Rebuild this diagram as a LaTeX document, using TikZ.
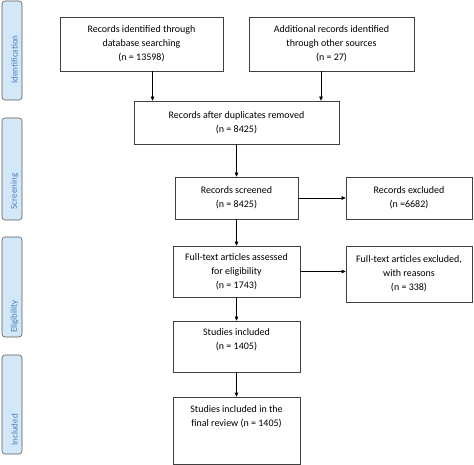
\documentclass[tikz,border=0pt]{standalone}
\usepackage{fontspec}
\setmainfont{Carlito}
\usetikzlibrary{positioning,arrows.meta}
\definecolor{phasefill}{HTML}{D2E8F8}
\definecolor{phasetext}{HTML}{4A7EBB}

\begin{document}
\begin{tikzpicture}
  [x=1pt,y=-1pt,
   every node/.style={font=\fontsize{10}{14}\selectfont},
   box/.style={draw=black!75,line width=0.6pt,align=center,inner sep=0pt},
   phase/.style={draw=black!65,fill=phasefill,rounded corners=3pt,line width=0.6pt,minimum width=20pt},
   phaselbl/.style={rotate=90,text=phasetext,font=\fontsize{9}{10}\selectfont},
   flow/.style={-{Triangle[length=4pt,width=3.5pt]},line width=0.6pt}]
  \useasboundingbox (0,0) rectangle (474,465);
  % phases down the left side
  \foreach \name/\top/\bot/\mid/\lbl in {idph/1/100/59.5/Identification,
      scrph/118/220/191.5/Screening, eligph/237/337/316.5/Eligibility,
      inclph/355/454/430/Included}
    {
    \node[phase,minimum height={(\bot-\top)*1pt}] (\name) at (12,{(\top+\bot)/2}) {};
    \node[phaselbl] (\name-lbl) at (14.5,\mid) {\lbl};
    }
  % flow boxes
  \node[box,minimum width=163pt,minimum height=54pt] (dbsearch) at (141.5,44)
    {Records identified through\\database searching\\(n = 13598)};
  \node[box,minimum width=165pt,minimum height=54pt] (othersrc) at (331.5,44)
    {Additional records identified\\through other sources\\(n = 27)};
  \node[box,minimum width=205pt,minimum height=43pt] (dedup) at (236.5,122.5)
    {Records after duplicates removed\\(n = 8425)};
  \node[box,minimum width=123pt,minimum height=42pt] (screened) at (236.5,198)
    {Records screened\\(n = 8425)};
  \node[box,minimum width=126pt,minimum height=42pt] (excluded) at (409,198)
    {Records excluded\\(n =6682)};
  \node[box,minimum width=127pt,minimum height=51pt] (fulltext) at (236.5,271.5)
    {Full-text articles assessed\\for eligibility\\(n = 1743)};
  \node[box,minimum width=126pt,minimum height=56pt] (ftexcl) at (409,274)
    {Full-text articles excluded,\\with reasons\\(n = 338)};
  \node[box,minimum width=127pt,minimum height=51pt] (included) at (236.5,346.5)
    {Studies included\\(n = 1405)\\\mbox{}};
  \node[box,minimum width=127pt,minimum height=67pt] (final) at (236.5,430.5)
    {Studies included in the\\final review (n = 1405)\\\mbox{}\\\mbox{}};
  % arrows
  \draw[flow] ([xshift=11pt]dbsearch.south) -- ([xshift=11pt]dbsearch.south |- dedup.north);
  \draw[flow] ([xshift=-10.5pt]othersrc.south) -- ([xshift=-10.5pt]othersrc.south |- dedup.north);
  \draw[flow] (dedup) -- (screened);
  \draw[flow] (screened) -- (excluded);
  \draw[flow] (screened) -- (fulltext);
  \draw[flow] (fulltext.east) -- (fulltext.east -| ftexcl.west);
  \draw[flow] (fulltext) -- (included);
  \draw[flow] (included) -- (final);
\end{tikzpicture}
\end{document}
